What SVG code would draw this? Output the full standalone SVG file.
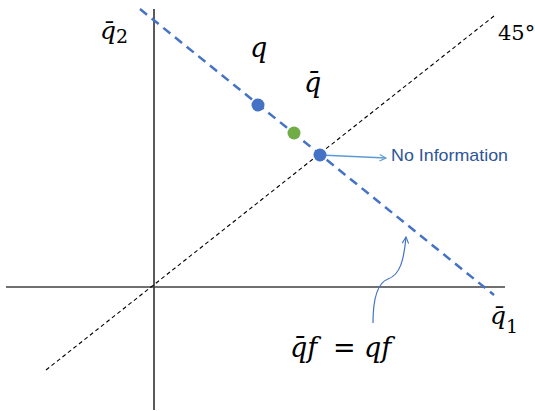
<svg xmlns="http://www.w3.org/2000/svg" width="535" height="411" viewBox="0 0 535 411">
<style>
.math{font-family:"DejaVu Serif","Liberation Serif",serif;font-style:italic;fill:#000}
.up{font-family:"DejaVu Serif","Liberation Serif",serif;font-style:normal;fill:#000}
.lbl{font-family:"Liberation Sans",Arial,sans-serif;fill:#2F5597}
</style>
<defs>
<marker id="ah" viewBox="0 0 10 10" refX="9" refY="5" markerWidth="8" markerHeight="8" markerUnits="userSpaceOnUse" orient="auto">
<path d="M1,1 L9,5 L1,9" fill="none" stroke="#5B9BD5" stroke-width="1.4"/>
</marker>
<marker id="ah2" viewBox="0 0 10 10" refX="9" refY="5" markerWidth="8" markerHeight="8" markerUnits="userSpaceOnUse" orient="auto">
<path d="M1,1 L9,5 L1,9" fill="none" stroke="#4472C4" stroke-width="1.4"/>
</marker>
</defs>
<rect width="535" height="411" fill="#fff"/>
<g id="axes">
<line x1="154" y1="9" x2="154" y2="410" stroke="#000" stroke-width="1.3"/>
<line x1="6" y1="287" x2="505" y2="287" stroke="#404040" stroke-width="1.5"/>
</g>
<g id="connectors">
<line id="diag45" x1="46" y1="370" x2="494" y2="16" stroke="#000" stroke-width="1.1" stroke-dasharray="4,3"/>
<line id="budget" x1="140" y1="9" x2="494" y2="295" stroke="#4472C4" stroke-width="2.5" stroke-dasharray="9,6"/>
<line id="noinfo-arrow" x1="320" y1="155" x2="386" y2="158" stroke="#5B9BD5" stroke-width="1.5" marker-end="url(#ah)"/>
<path id="curve-arrow" d="M373,323 C373,300 377,283 388,279 C400,275 404,260 406,237" fill="none" stroke="#4472C4" stroke-width="1.2" marker-end="url(#ah2)"/>
</g>
<g id="point-q"><circle cx="258" cy="105" r="6.5" fill="#4472C4"/></g>
<g id="point-qbar"><circle cx="294" cy="133" r="6.5" fill="#70AD47"/></g>
<g id="point-noinfo"><circle cx="320" cy="155" r="6.5" fill="#4472C4"/></g>
<g id="labels">
<text class="math" x="100" y="39" font-size="25">q̄<tspan class="up" font-size="19" dy="4">2</tspan></text>
<text class="math" x="250" y="57" font-size="27">q</text>
<text class="math" x="304" y="92" font-size="27">q̄</text>
<text class="up" x="498" y="40" font-size="21">45°</text>
<text class="math" x="490" y="324" font-size="25">q̄<tspan class="up" font-size="19" dy="9">1</tspan></text>
<text class="math" x="290" y="357" font-size="27">q̄f<tspan class="up" x="333">=</tspan><tspan x="364">qf</tspan></text>
<text class="lbl" x="391" y="161" font-size="17" textLength="117" lengthAdjust="spacingAndGlyphs">No Information</text>
</g>
</svg>
